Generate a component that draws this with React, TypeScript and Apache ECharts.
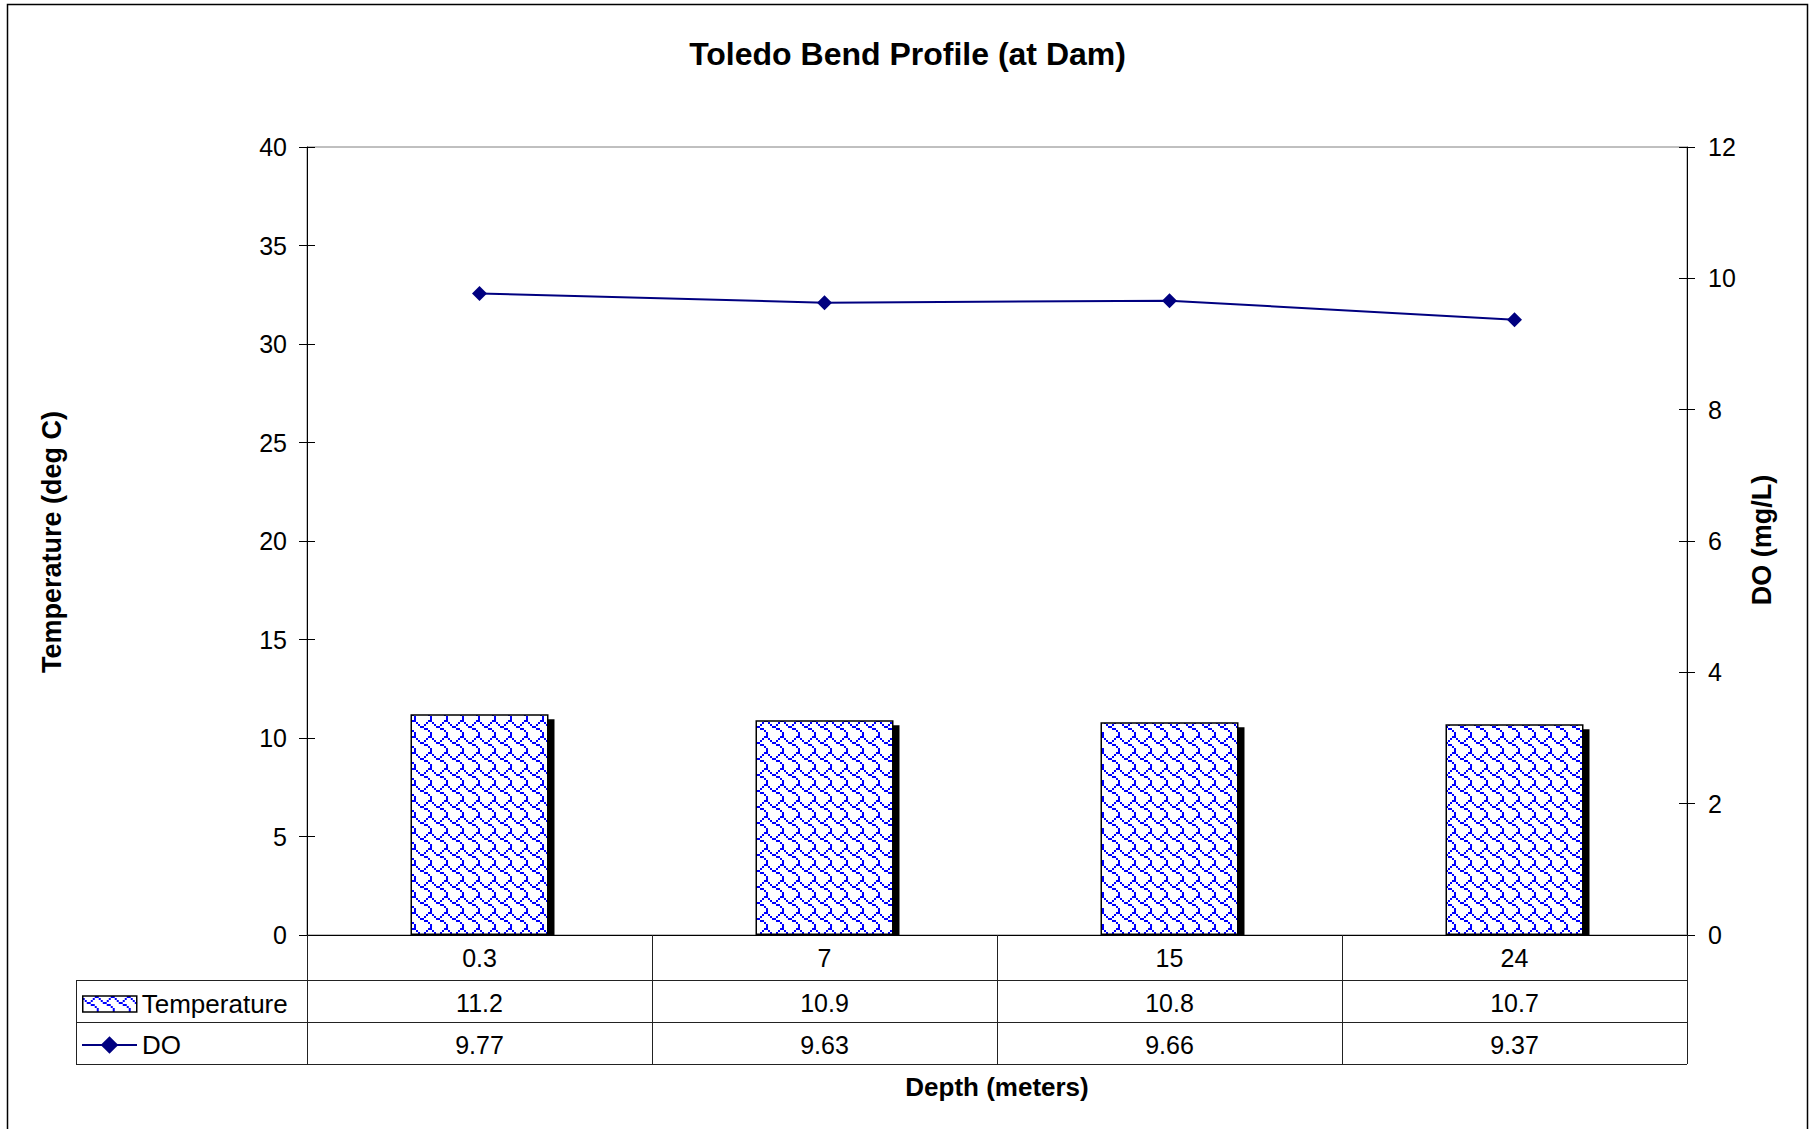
import React, { useEffect, useRef } from 'react';
import * as echarts from 'echarts';

// ---- data ----
const depths = ['0.3', '7', '15', '24'];
const temperature = [11.2, 10.9, 10.8, 10.7];
const dissolvedOxygen = [9.77, 9.63, 9.66, 9.37];
const tempTicks = { min: 0, max: 40, interval: 5 };
const doTicks = { min: 0, max: 12, interval: 2 };
const titleText = 'Toledo Bend Profile (at Dam)';
const leftTitle = 'Temperature (deg C)';
const rightTitle = 'DO (mg/L)';
const xTitle = 'Depth (meters)';
// Excel "shingle" hatch rows (8x8 bitmap)
const SHINGLE = [0x03, 0x84, 0x48, 0x30, 0x0c, 0x02, 0x01, 0x01];

const FONT = 'Liberation Sans';

function makeTile(): HTMLCanvasElement {
  const c = document.createElement('canvas');
  c.width = 16;
  c.height = 16;
  const ctx = c.getContext('2d')!;
  ctx.fillStyle = '#ffffff';
  ctx.fillRect(0, 0, 16, 16);
  ctx.fillStyle = '#0000ff';
  for (let y = 0; y < 8; y++) {
    for (let x = 0; x < 8; x++) {
      if (SHINGLE[y] & (0x80 >> x)) ctx.fillRect(x * 2, y * 2, 2, 2);
    }
  }
  return c;
}

export default function App() {
  const ref = useRef<HTMLDivElement>(null);

  useEffect(() => {
    if (!ref.current) return;
    const chart = echarts.init(ref.current, null, { renderer: 'svg' });
    const pattern: any = { image: makeTile(), repeat: 'repeat', imageWidth: 16, imageHeight: 16 };

    const axisLabel = { fontSize: 25, color: '#000', fontFamily: FONT };

    const option: any = {
      animation: false,
      backgroundColor: '#fff',
      textStyle: { fontFamily: FONT },
      title: {
        text: titleText,
        left: 'center',
        top: 38,
        padding: 0,
        textStyle: { fontSize: 32, fontWeight: 'bold', color: '#000', fontFamily: FONT },
      },
      grid: {
        left: 307,
        right: 128,
        top: 147,
        bottom: 194,
        show: true,
        borderColor: '#808080',
        borderWidth: 1,
        backgroundColor: 'transparent',
      },
      legend: [
        {
          data: ['Temperature'],
          left: 82,
          top: 991,
          padding: 0,
          orient: 'vertical',
          icon: 'rect',
          itemWidth: 54,
          itemHeight: 16,
          selectedMode: false,
          itemStyle: { borderColor: '#000', borderWidth: 1.5 },
          textStyle: { fontSize: 26, color: '#000', fontFamily: FONT },
        },
        {
          data: ['DO'],
          left: 81,
          top: 1032,
          padding: 0,
          orient: 'vertical',
          itemWidth: 55,
          itemHeight: 22,
          selectedMode: false,
          textStyle: { fontSize: 26, color: '#000', fontFamily: FONT },
        },
      ],
      xAxis: [
        {
          type: 'category',
          data: depths,
          position: 'bottom',
          axisLine: { show: true, lineStyle: { color: '#000', width: 1 } },
          axisTick: { show: true, interval: 0, length: 129, lineStyle: { color: '#222', width: 1 } },
          axisLabel: { ...axisLabel, margin: 10, interval: 0 },
          splitLine: { show: false },
        },
        {
          type: 'category',
          data: temperature.map(String),
          position: 'bottom',
          offset: 45,
          axisLine: { show: false },
          axisTick: { show: false },
          axisLabel: { ...axisLabel, margin: 10, interval: 0 },
          splitLine: { show: false },
        },
        {
          type: 'category',
          data: dissolvedOxygen.map(String),
          position: 'bottom',
          offset: 87,
          axisLine: { show: false },
          axisTick: { show: false },
          axisLabel: { ...axisLabel, margin: 10, interval: 0 },
          splitLine: { show: false },
        },
      ],
      yAxis: [
        {
          type: 'value',
          position: 'left',
          ...tempTicks,
          axisLine: { show: true, lineStyle: { color: '#000', width: 1 } },
          axisTick: { show: true, length: 8, lineStyle: { color: '#000' } },
          axisLabel: { ...axisLabel, margin: 20 },
          splitLine: { show: false },
        },
        {
          type: 'value',
          position: 'right',
          ...doTicks,
          axisLine: { show: true, lineStyle: { color: '#000', width: 1 } },
          axisTick: { show: true, length: 8, lineStyle: { color: '#000' } },
          axisLabel: { ...axisLabel, margin: 21 },
          splitLine: { show: false },
        },
        {
          type: 'value',
          position: 'left',
          ...tempTicks,
          axisLine: { show: false },
          axisTick: { show: true, inside: true, length: 8, lineStyle: { color: '#000' } },
          axisLabel: { show: false },
          splitLine: { show: false },
        },
        {
          type: 'value',
          position: 'right',
          ...doTicks,
          axisLine: { show: false },
          axisTick: { show: true, inside: true, length: 8, lineStyle: { color: '#000' } },
          axisLabel: { show: false },
          splitLine: { show: false },
        },
      ],
      series: [
        {
          type: 'custom',
          name: 'shadow',
          xAxisIndex: 0,
          yAxisIndex: 0,
          z: 1,
          silent: true,
          data: temperature.map((v, i) => [i, v]),
          renderItem: (params: any, api: any) => {
            const i = api.value(0);
            const v = api.value(1);
            const top = api.coord([i, v]);
            const base = api.coord([i, 0]);
            const w = api.size([1, 0])[0] * 0.4;
            return {
              type: 'rect',
              shape: { x: top[0] - w / 2 + 6, y: top[1] + 5, width: w, height: base[1] - top[1] - 5 },
              style: { fill: '#000' },
            };
          },
        },
        {
          type: 'bar',
          name: 'Temperature',
          xAxisIndex: 0,
          yAxisIndex: 0,
          z: 2,
          barWidth: '40%',
          data: temperature,
          itemStyle: { color: pattern, borderColor: '#000', borderWidth: 1.5 },
        },
        {
          type: 'line',
          name: 'DO',
          xAxisIndex: 0,
          yAxisIndex: 1,
          z: 3,
          data: dissolvedOxygen,
          symbol: 'diamond',
          symbolSize: 15,
          lineStyle: { color: '#000080', width: 2 },
          itemStyle: { color: '#000080' },
        },
      ],
      graphic: [
        {
          type: 'rect',
          shape: { x: 7.5, y: 4.5, width: 1800, height: 1140 },
          style: { fill: 'none', stroke: '#000', lineWidth: 1.5 },
          silent: true,
        },
        { type: 'line', shape: { x1: 76, y1: 980.5, x2: 1687, y2: 980.5 }, style: { stroke: '#222', lineWidth: 1 } },
        { type: 'line', shape: { x1: 76, y1: 1022.5, x2: 1687, y2: 1022.5 }, style: { stroke: '#222', lineWidth: 1 } },
        { type: 'line', shape: { x1: 76, y1: 1064.5, x2: 1687, y2: 1064.5 }, style: { stroke: '#222', lineWidth: 1 } },
        { type: 'line', shape: { x1: 76.5, y1: 980, x2: 76.5, y2: 1065 }, style: { stroke: '#222', lineWidth: 1 } },
        {
          type: 'text',
          x: 52,
          y: 542,
          rotation: Math.PI / 2,
          style: {
            text: leftTitle,
            fontSize: 27,
            fontWeight: 'bold',
            fontFamily: FONT,
            fill: '#000',
            align: 'center',
            verticalAlign: 'middle',
          },
        },
        {
          type: 'text',
          x: 1762,
          y: 540,
          rotation: Math.PI / 2,
          style: {
            text: rightTitle,
            fontSize: 27,
            fontWeight: 'bold',
            fontFamily: FONT,
            fill: '#000',
            align: 'center',
            verticalAlign: 'middle',
          },
        },
        {
          type: 'text',
          x: 997,
          y: 1087,
          style: {
            text: xTitle,
            fontSize: 26,
            fontWeight: 'bold',
            fontFamily: FONT,
            fill: '#000',
            align: 'center',
            verticalAlign: 'middle',
          },
        },
      ],
    };

    chart.setOption(option);
    return () => chart.dispose();
  }, []);

  return (
    <div
      ref={ref}
      style={{ position: 'fixed', left: 0, top: 0, width: 1815, height: 1129, background: '#fff' }}
    />
  );
}
